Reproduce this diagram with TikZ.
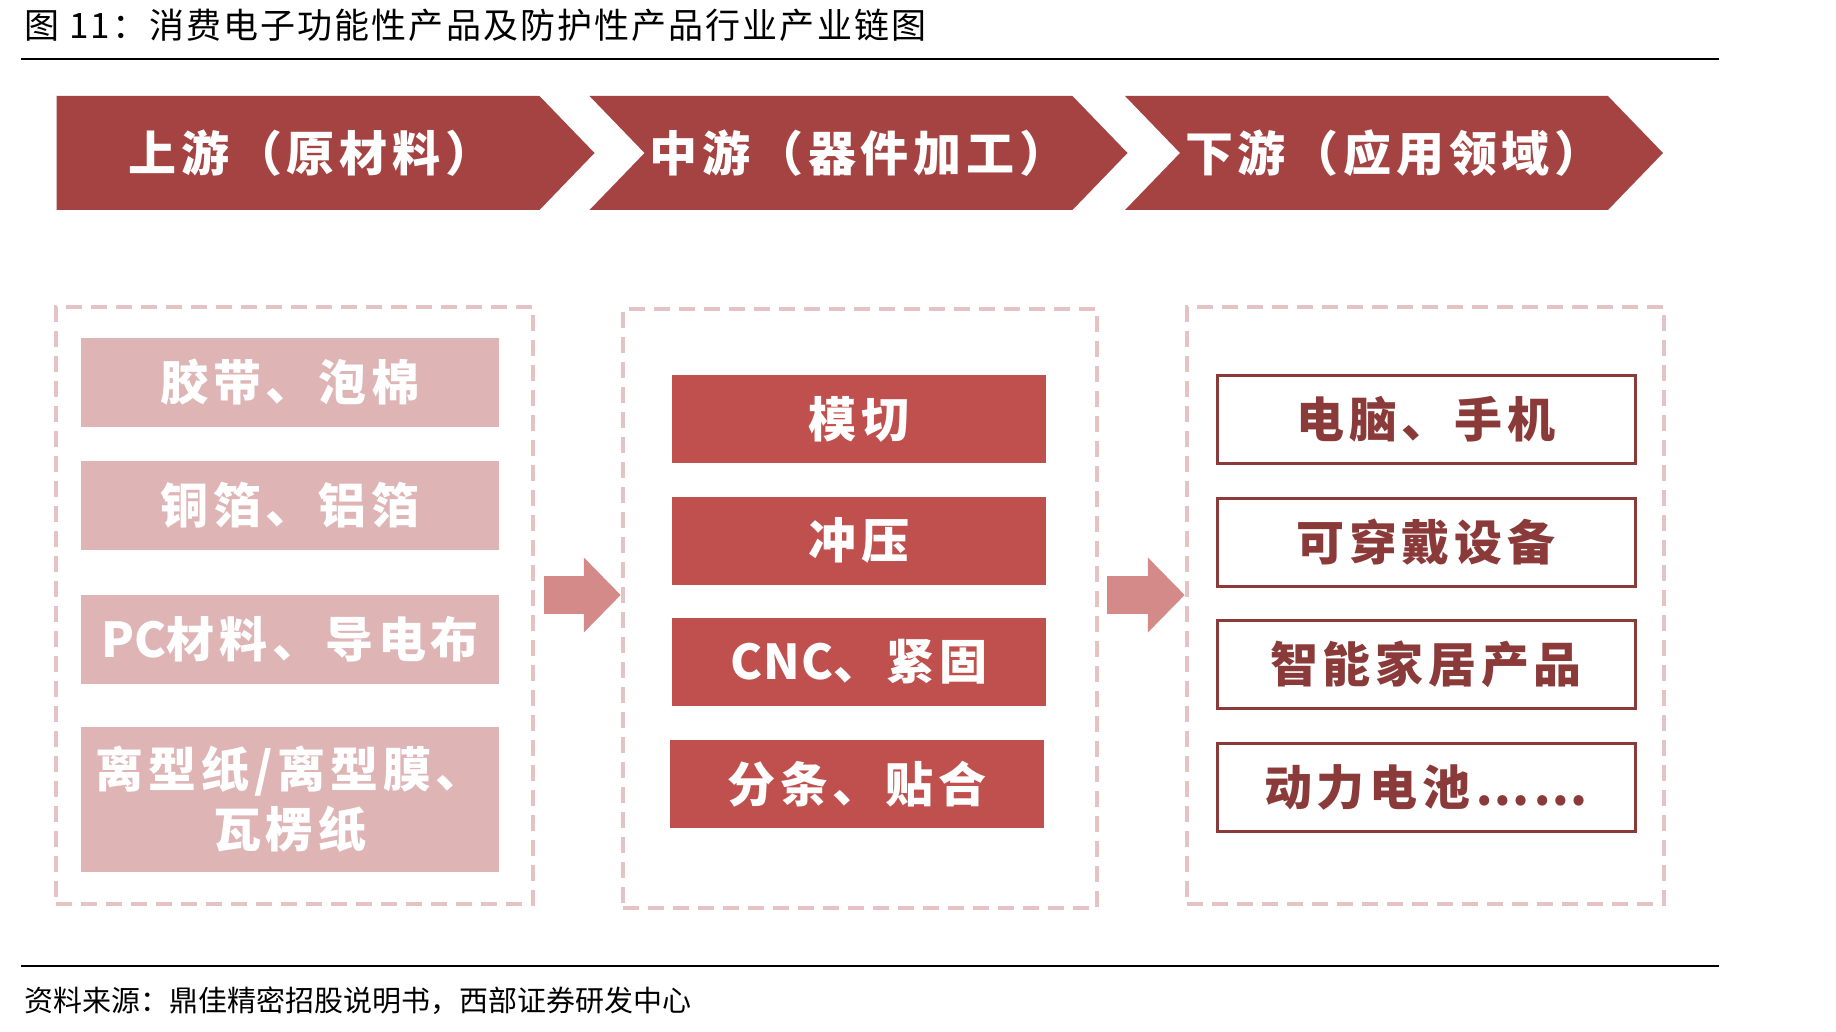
\documentclass[tikz,border=0pt]{standalone}
\usepackage{fontspec}
\newfontfamily\cjk{Noto Sans CJK SC}
\newfontfamily\cjkwide{Noto Sans CJK SC}[LetterSpace=10]
\usepackage{tikz}
\usetikzlibrary{shapes,shapes.symbols,arrows.meta,positioning,calc}
\definecolor{chevred}{HTML}{A44341}
\definecolor{midred}{HTML}{C0504D}
\definecolor{lowpink}{HTML}{DEB4B5}
\definecolor{framepink}{HTML}{E5C2C3}
\definecolor{arrowpink}{HTML}{D38A89}
\definecolor{darkred}{HTML}{8B3A3A}
\newcommand{\latin}[1]{{\addfontfeature{LetterSpace=2}#1}}

\begin{document}
\begin{tikzpicture}[x=1pt, y=-1pt,
    stage/.style={signal, signal to=east, signal pointer angle=92, fill=chevred, text=white, minimum width=538pt, minimum height=114pt, inner sep=0pt, font=\cjkwide\bfseries\fontsize{48}{50}\selectfont},
    frame/.style={rectangle, draw=framepink, line width=4.5pt, dash pattern=on 16pt off 9pt, minimum width=477pt, minimum height=597pt},
    upbox/.style={rectangle, fill=lowpink, text=white, minimum width=418pt, minimum height=89pt, align=center, font=\cjkwide\bfseries\fontsize{48}{60}\selectfont},
    midbox/.style={rectangle, fill=midred, text=white, minimum width=374pt, minimum height=88pt, font=\cjkwide\bfseries\fontsize{48}{50}\selectfont},
    downbox/.style={rectangle, draw=darkred, line width=3pt, fill=white, text=darkred, minimum width=418pt, minimum height=88pt, font=\cjkwide\bfseries\fontsize{48}{50}\selectfont},
    fatarrow/.style={-{Triangle[length=37pt, width=73pt]}, draw=arrowpink, line width=38pt}
]
\useasboundingbox (0,0) rectangle (1836,1032);

% Title
\node[anchor=west, inner sep=0pt, font=\cjk\addfontfeature{LetterSpace=6}\fontsize{35}{38}\selectfont] (title) at (24,25) {图 11：消费电子功能性产品及防护性产品行业产业链图};
\draw[line width=2pt] (21,59) -- (1719,59);

% Stages
\node[stage] (up) at (298,153) {\hspace*{26pt}上游（原材料）};
\node[stage, signal from=west] (mid) at (858.5,153) {中游（器件加工）};
\node[stage, signal from=west] (down) at (1394,153) {下游（应用领域）};

% Frames
\node[frame] (upframe) at (294.5,605.5) {};
\node[frame, minimum width=474pt, minimum height=599pt] (midframe) at (860,608.5) {};
\node[frame] (downframe) at (1425.5,605.5) {};

% Upstream
\node[upbox] (tape) at (290,382.5) {胶带、泡棉};
\node[upbox] (foil) at (290,505.5) {铜箔、铝箔};
\node[upbox] (pc) at (290,639.5) {\latin{PC}材料、导电布};
\node[upbox, minimum height=145pt] (paper) at (290,799.5) {离型纸/离型膜、\\瓦楞纸};

% Midstream
\node[midbox] (diecut) at (859,419) {模切};
\node[midbox] (stamp) at (859,540.5) {冲压};
\node[midbox] (cnc) at (859,662) {\latin{CNC}、紧固};
\node[midbox] (slit) at (857,784) {分条、贴合};

% Downstream
\node[downbox] (pc2) at (1426,419) {电脑、手机};
\node[downbox] (wear) at (1426,542) {可穿戴设备};
\node[downbox] (home) at (1426,664.5) {智能家居产品};
\node[downbox] (battery) at (1426,787.5) {动力电池……};

% Connections
\draw[fatarrow, shorten <=9pt] ($(upframe.east)+(0,-10.5)$) -- ($(upframe.east -| midframe.west)+(0,-10.5)$);
\draw[fatarrow, shorten <=8pt] ($(midframe.east)+(0,-13.5)$) -- ($(midframe.east -| downframe.west)+(0,-13.5)$);

% Source
\draw[line width=2pt] (21,966) -- (1719,966);
\node[anchor=west, inner sep=0pt, font=\cjk\fontsize{29}{32}\selectfont] (source) at (24,1001) {资料来源：鼎佳精密招股说明书，西部证券研发中心};

\end{tikzpicture}
\end{document}
